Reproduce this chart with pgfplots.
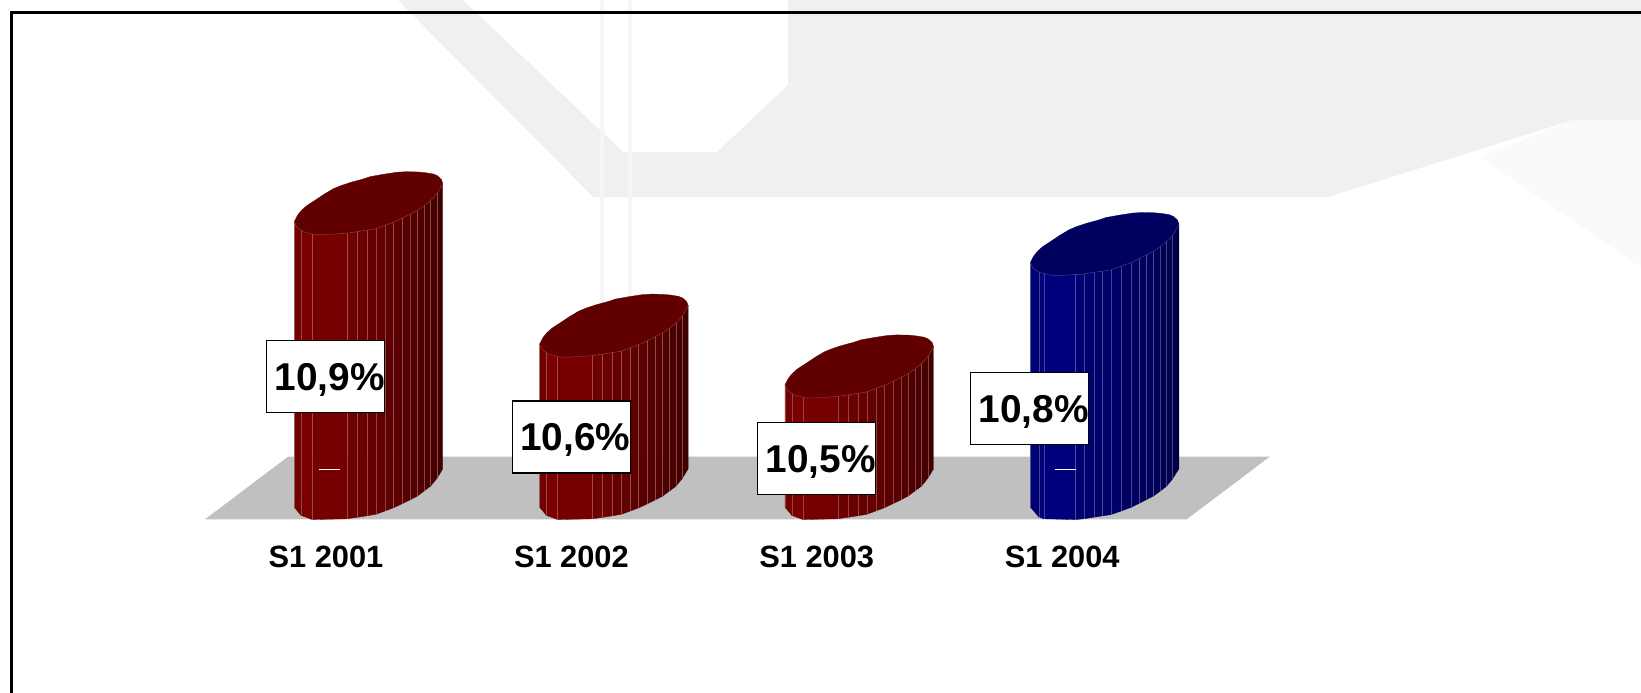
\documentclass[border=0pt]{standalone}
\usepackage{fontspec}
\setmainfont{Liberation Sans}
\usepackage{pgfplots}
\pgfplotsset{compat=1.18}
\definecolor{wm}{HTML}{EFF0F2}
\definecolor{wmb}{HTML}{FAFAFB}
\definecolor{wml}{HTML}{F5F6F7}
\definecolor{floorc}{HTML}{C0C0C0}
\definecolor{redb}{HTML}{800000}
\definecolor{redt}{HTML}{600000}
\definecolor{redl}{HTML}{B07070}
\definecolor{bluB}{HTML}{000080}
\definecolor{blut}{HTML}{000060}
\definecolor{blul}{HTML}{7070B0}
\def\pxu{245.4}
\def\basev{10.2}
\def\vpx{408}
% one side slice: dx1/dy1/dx2/dy2/percent
\def\cylslice#1/#2/#3/#4/#5\relax{%
  \pgfmathsetmacro\xa{\cylx+#1/\pxu}\pgfmathsetmacro\xb{\cylx+#3/\pxu}%
  \pgfmathsetmacro\yaa{\basev+#2/\vpx}\pgfmathsetmacro\yab{\cylv+#2/\vpx}%
  \pgfmathsetmacro\yba{\basev+#4/\vpx}\pgfmathsetmacro\ybb{\cylv+#4/\vpx}%
  \edef\temp{\noexpand\addplot[fill=\cylc!#5!black,draw=\cylc!#5!black,line width=.3pt,forget plot] coordinates {(\xa,\yaa)(\xb,\yba)(\xb,\ybb)(\xa,\yab)} --cycle;}\temp}
\def\cylline#1/#2/#3/#4/#5\relax{%
  \pgfmathsetmacro\xa{\cylx+#1/\pxu}%
  \pgfmathsetmacro\yaa{\basev+#2/\vpx}\pgfmathsetmacro\yab{\cylv+#2/\vpx}%
  \edef\temp{\noexpand\addplot[color=\cyll,line width=.5pt,opacity=.6,forget plot] coordinates {(\xa,\yaa)(\xa,\yab)};}\temp}
\def\outpt#1/#2\relax{%
  \pgfmathsetmacro\xa{\cylx+#1/\pxu}\pgfmathsetmacro\yaa{\cylv+#2/\vpx}%
  \xdef\coords{\coords(\xa,\yaa)}}
\def\lowerrim{-74.2/-18.4,-71.8/-24,-65.2/-28.4,-53.5/-31.4,-43.5/-31.4,-21.8/-30,6.5/-25.7,15/-22.7,26.5/-18.4,38/-12.8,49.8/-6.7,58/-0.6,64.8/5,70/12,74.2/20}
\def\upperrim{72.8/24,69/27.5,64.8/29.3,57/30.6,49.8/31.3,38/31.6,28.2/31,15/29,1.5/26.6,-5.2/24.3,-18.5/20.7,-28/17.5,-35.2/14.5,-44/9.3,-53.5/3,-62/-2.6,-67/-7,-71/-12}
% #1 rim points, #2 position, #3 value, #4 side colour, #5 top colour, #6 line colour, #7 slices
\newcommand\cylreal[6]{%
  \def\cylx{#2}\def\cylv{#3}\def\cylc{#4}\def\cyll{#6}%
  \pgfplotsforeachungrouped \s in {#1}{\expandafter\cylslice\s\relax}%
  \pgfplotsforeachungrouped \s in {#1}{\expandafter\cylline\s\relax}%
  \gdef\coords{}%
  \expandafter\rimloop\expandafter{\lowerrim}%
  \expandafter\rimloop\expandafter{\upperrim}%
  \edef\temp{\noexpand\addplot[fill=#5,draw=#5,line width=.3pt,forget plot] coordinates {\coords} --cycle;}\temp
  \gdef\coords{}%
  \expandafter\rimloop\expandafter{\lowerrim}%
  \edef\temp{\noexpand\addplot[color=#6,line width=.5pt,opacity=.5,forget plot] coordinates {\coords};}\temp
}
\newcommand\rimloop[1]{\pgfplotsforeachungrouped \s in {#1}{\expandafter\outpt\s\relax}}
\newcommand\cyl[6]{\expandafter\cylreal\expandafter{#6}{#1}{#2}{#3}{#4}{#5}}
\def\redslices{-74.2/-18.4/-67.5/-26.5/90,-67.5/-26.5/-56.2/-30.7/95,-56.2/-30.7/-21.2/-29.9/92,-21.2/-29.9/-11.2/-28.4/85,-11.2/-28.4/-1.2/-26.9/83,-1.2/-26.9/7.5/-25.4/80,7.5/-25.4/16.5/-22.1/77,16.5/-22.1/24.8/-19/73,24.8/-19/33.8/-14.8/70,33.8/-14.8/41.5/-11/67,41.5/-11/48.8/-7.2/64,48.8/-7.2/55.5/-2.2/61,55.5/-2.2/62.2/2.8/58,62.2/2.8/68.8/11/55,68.8/11/74.2/20/50}
\def\blueslices{-74.2/-18.4/-65.9/-28/92,-65.9/-28/-60.9/-29.9/96,-60.9/-29.9/-29.2/-30.7/98,-29.2/-30.7/-20.9/-29.9/90,-20.9/-29.9/-10.9/-28.3/86,-10.9/-28.3/-2/-27/84,-2/-27/6.3/-25.7/82,6.3/-25.7/16.3/-22.2/80,16.3/-22.2/26.3/-18.5/77,26.3/-18.5/34.8/-14.3/74,34.8/-14.3/42/-10.6/72,42/-10.6/48.8/-7.2/69,48.8/-7.2/55.5/-2.2/66,55.5/-2.2/61.5/2.3/63,61.5/2.3/67.5/9.5/60,67.5/9.5/74.2/20/55}
\tikzset{vlab/.style={draw=black,line width=1.3pt,fill=white,minimum width=118pt,minimum height=72pt,inner sep=0pt,font=\fontsize{38.8}{38.8}\selectfont\bfseries}}
\newcommand\vtext[1]{\hspace*{8pt}\raisebox{-13.8pt}[0pt][0pt]{#1}}
\begin{document}
\begin{tikzpicture}
% background and floor, in picture units
\begin{axis}[at={(0pt,0pt)},anchor=south west,scale only axis,width=1641pt,height=693pt,
  xmin=0,xmax=1641,ymin=0,ymax=693,y dir=reverse,hide axis,clip=true]
\addplot[fill=wmb,draw=none] coordinates {(1480,157)(1641,267)(1641,120)(1573,120)} --cycle;
\addplot[fill=wm,draw=none] coordinates {(398,0)(593,197)(1328,197)(1573,120)(1641,120)(1641,0)(788,0)(788,85)(717,152)(623,152)(463,0)} --cycle;
\addplot[color=wml,line width=4pt] coordinates {(602,0)(602,340)};
\addplot[color=wml,line width=4pt] coordinates {(630,0)(630,340)};
\addplot[fill=floorc,draw=none] coordinates {(205,519.3)(288.3,456.5)(1270,456.5)(1186.7,519.3)} --cycle;
\addplot[color=black,line width=3pt] coordinates {(11.5,693)(11.5,13)(1641,13)};
\end{axis}
% the chart
\begin{axis}[at={(0pt,168pt)},anchor=south west,scale only axis,width=1641pt,height=525pt,
  xmin=-1.5017,xmax=5.1854,ymin=10.1115,ymax=11.3982,clip=false,
  axis line style={draw=none},tick style={draw=none},ytick=\empty,
  xtick={0,1,2,3},xticklabels={S1 2001,S1 2002,S1 2003,S1 2004},
  xticklabel style={font=\fontsize{30.8}{30.8}\selectfont\bfseries,xshift=-42.5pt,yshift=-17.5pt}]
\cyl{0}{10.9}{redb}{redt}{redl}{\redslices}
\cyl{1}{10.6}{redb}{redt}{redl}{\redslices}
\cyl{2}{10.5}{redb}{redt}{redl}{\redslices}
\cyl{3}{10.8}{bluB}{blut}{blul}{\blueslices}
\addplot[color=white,line width=.8pt,forget plot] coordinates {(-0.2017,10.248)(-0.1161,10.248)};
\addplot[color=white,line width=.8pt,forget plot] coordinates {(2.7983,10.248)(2.8839,10.248)};
\node[vlab] at (axis cs:-0.1740,10.476) {\vtext{10,9\%}};
\node[vlab] at (axis cs:0.8268,10.327) {\vtext{10,6\%}};
\node[vlab] at (axis cs:1.8260,10.275) {\vtext{10,5\%}};
\node[vlab] at (axis cs:2.6944,10.397) {\vtext{10,8\%}};
\end{axis}
\end{tikzpicture}
\end{document}
